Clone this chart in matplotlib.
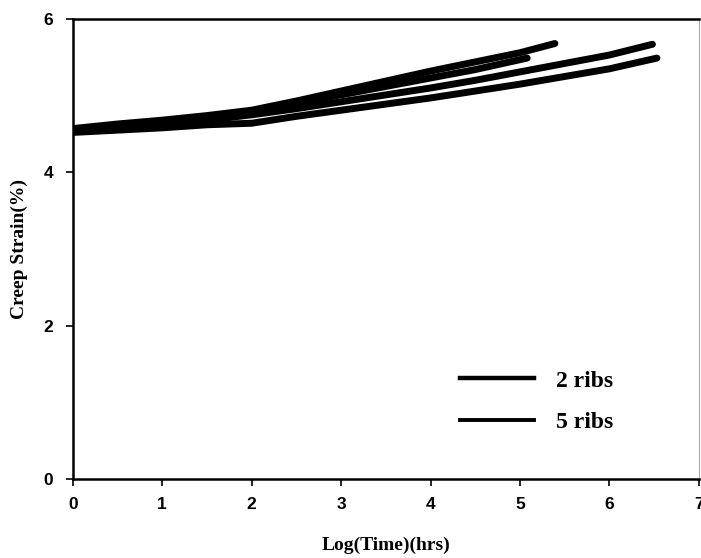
import matplotlib
matplotlib.use("Agg")
import matplotlib.pyplot as plt
from matplotlib.lines import Line2D

# Data (Log time in hrs vs creep strain %)
t_2ribs_a = [0, 0.5, 1.0, 1.5, 2.0, 2.5, 3.0, 3.5, 4.0, 4.5, 5.0, 5.39]
e_2ribs_a = [4.57, 4.63, 4.68, 4.74, 4.81, 4.93, 5.06, 5.19, 5.32, 5.44, 5.56, 5.68]
t_2ribs_b = [0, 0.5, 1.0, 1.5, 2.0, 2.5, 3.0, 3.5, 4.0, 4.5, 5.08]
e_2ribs_b = [4.56, 4.61, 4.66, 4.72, 4.79, 4.90, 5.01, 5.12, 5.23, 5.34, 5.49]
t_5ribs_a = [0, 0.5, 1.0, 1.5, 2.0, 2.5, 3.0, 3.5, 4.0, 4.5, 5.0, 5.5, 6.0, 6.48]
e_5ribs_a = [4.54, 4.58, 4.62, 4.68, 4.75, 4.83, 4.92, 5.01, 5.10, 5.20, 5.31, 5.42, 5.53, 5.67]
t_5ribs_b = [0, 0.5, 1.0, 1.5, 1.75, 2.0, 2.5, 3.0, 3.5, 4.0, 4.5, 5.0, 5.5, 6.0, 6.53]
e_5ribs_b = [4.52, 4.55, 4.58, 4.62, 4.63, 4.64, 4.73, 4.81, 4.89, 4.97, 5.06, 5.15, 5.25, 5.35, 5.49]

series_labels = ["2 ribs", "5 ribs"]
x_ticks = [0, 1, 2, 3, 4, 5, 6, 7]
y_ticks = [0, 2, 4, 6]

fig = plt.figure(figsize=(7.01, 5.58), dpi=100)
ax = fig.add_axes([0.1037, 0.1416, 0.8934, 0.8244])

lw = 5.0
for t, e in [(t_2ribs_a, e_2ribs_a), (t_2ribs_b, e_2ribs_b),
             (t_5ribs_a, e_5ribs_a), (t_5ribs_b, e_5ribs_b)]:
    ax.plot(t, e, color="black", lw=lw, solid_capstyle="round",
            solid_joinstyle="round")

ax.set_xlim(0, 7)
ax.set_ylim(0, 6)
ax.set_xticks(x_ticks)
ax.set_yticks(y_ticks)
tick_font = dict(fontsize=12.5, fontweight="bold", family="Liberation Sans")
ax.set_xticklabels([str(v) for v in x_ticks], **tick_font)
ax.set_yticklabels([str(v) for v in y_ticks], **tick_font)
ax.tick_params(axis="y", direction="out", length=5, width=1.2, pad=9)
ax.tick_params(axis="x", direction="out", length=5, width=1.2, pad=8)

for s in ["left", "bottom", "top"]:
    ax.spines[s].set_linewidth(1.8)
ax.spines["right"].set_linewidth(0.8)
ax.spines["right"].set_color("#aaaaaa")

ax.set_xlabel("Log(Time)(hrs)", fontsize=14, fontweight="bold",
              family="Liberation Serif", labelpad=18)
ax.set_ylabel("Creep Strain(%)", fontsize=14, fontweight="bold",
              family="Liberation Serif", labelpad=11)

handles = [Line2D([0], [0], color="black", lw=3.2),
           Line2D([0], [0], color="black", lw=2.8)]
leg = ax.legend(handles, series_labels, loc="center left",
                bbox_to_anchor=(0.619, 0.168), frameon=False,
                borderpad=0, borderaxespad=0,
                prop={"family": "Liberation Serif", "weight": "bold", "size": 17},
                handlelength=3.1, labelspacing=0.85, handletextpad=0.95)

fig.savefig("out.png", dpi=100)
